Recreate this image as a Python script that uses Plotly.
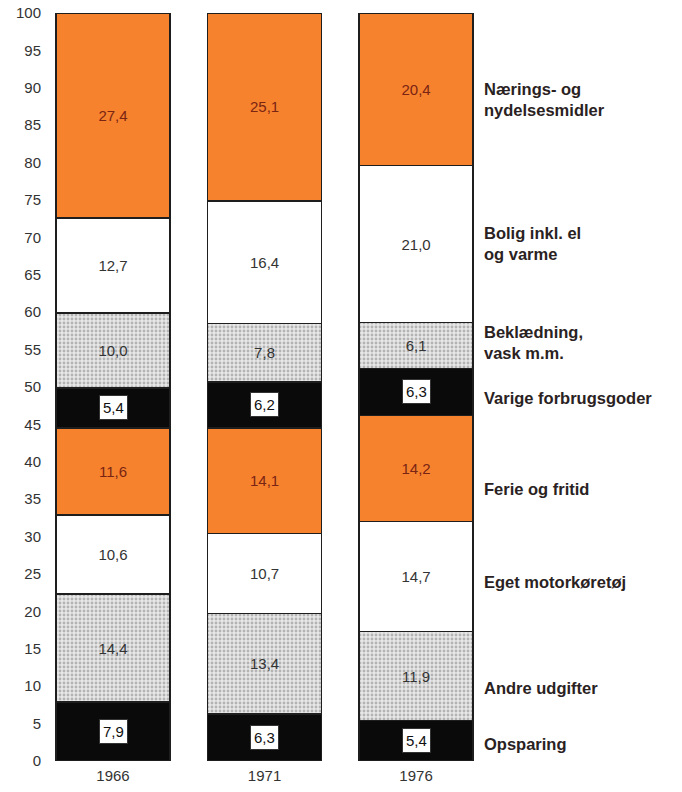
import plotly.graph_objects as go

years = ["1966", "1971", "1976"]

# Spending groups, bottom to top of each stacked column
categories = [
    "Opsparing",
    "Andre udgifter",
    "Eget motorkøretøj",
    "Ferie og fritid",
    "Varige forbrugsgoder",
    "Beklædning, vask m.m.",
    "Bolig inkl. el og varme",
    "Nærings- og nydelsesmidler",
]
right_labels = [
    "Opsparing",
    "Andre udgifter",
    "Eget motorkøretøj",
    "Ferie og fritid",
    "Varige forbrugsgoder",
    "Beklædning,<br>vask m.m.",
    "Bolig inkl. el<br>og varme",
    "Nærings- og<br>nydelsesmidler",
]

opsparing = [7.9, 6.3, 5.4]
andre_udgifter = [14.4, 13.4, 11.9]
eget_motorkoeretoej = [10.6, 10.7, 14.7]
ferie_fritid = [11.6, 14.1, 14.2]
varige_forbrugsgoder = [5.4, 6.2, 6.3]
beklaedning = [10.0, 7.8, 6.1]
bolig = [12.7, 16.4, 21.0]
naerings = [27.4, 25.1, 20.4]

series = [opsparing, andre_udgifter, eget_motorkoeretoej, ferie_fritid,
          varige_forbrugsgoder, beklaedning, bolig, naerings]

# Fill style per group
ORANGE = "#F6822E"
styles = ["black", "dots", "white", "orange", "black", "dots", "white", "orange"]

# Vertical placement of the side labels (percent axis)
label_y = [2.3, 9.8, 23.9, 36.4, 48.5, 55.9, 69.2, 88.4]

xpos = [0, 1, 2]
FONT = "Liberation Sans, Arial, sans-serif"


def fmt(v):
    return f"{v:.1f}".replace(".", ",")


fig = go.Figure()
annotations = []
cum = [0.0, 0.0, 0.0]
for name, vals, style in zip(categories, series, styles):
    marker = dict(line=dict(color="#1e1e1e", width=1.5))
    textfont = dict(family=FONT, size=15, color="#333")
    text = [fmt(v) for v in vals]
    if style == "orange":
        marker["color"] = ORANGE
        textfont["color"] = "#7a2413"
    elif style == "white":
        marker["color"] = "#ffffff"
    elif style == "dots":
        marker["color"] = "#e2e2e2"
        marker["pattern"] = dict(shape=".", fgcolor="#7d7d7d", bgcolor="#e8e8e8",
                                 size=4, solidity=0.4, fillmode="overlay")
    else:
        marker["color"] = "#0a0a0a"
        text = None
        for i, v in enumerate(vals):
            annotations.append(dict(
                x=xpos[i], y=cum[i] + v / 2, xref="x", yref="y",
                text=fmt(v), showarrow=False,
                font=dict(family=FONT, size=15, color="#111"),
                bgcolor="#ffffff", bordercolor="#333", borderwidth=1, borderpad=3,
            ))
    fig.add_trace(go.Bar(
        x=xpos, y=vals, name=name, marker=marker,
        text=text, textposition="inside" if text else "none",
        insidetextanchor="middle", textangle=0, textfont=textfont,
        width=0.75, showlegend=False, hoverinfo="name+y",
    ))
    cum = [c + v for c, v in zip(cum, vals)]

for lab, ly in zip(right_labels, label_y):
    annotations.append(dict(
        x=1.0165, y=ly, xref="paper", yref="y", xanchor="left", yanchor="middle",
        text=f"<b>{lab}</b>", showarrow=False, align="left",
        font=dict(family=FONT, size=16.5, color="#2a2222"),
    ))

fig.update_layout(
    barmode="stack",
    width=682, height=792,
    margin=dict(l=50, r=207, t=13, b=31),
    plot_bgcolor="#ffffff", paper_bgcolor="#ffffff",
    annotations=annotations,
    uniformtext=dict(mode="show", minsize=10),
)
fig.update_xaxes(
    range=[-0.416, 2.389], tickvals=xpos, ticktext=years,
    showgrid=False, zeroline=False, showline=False, ticks="",
    automargin=False, ticklabelstandoff=4,
    tickfont=dict(family=FONT, size=15, color="#333"),
)
fig.update_yaxes(
    range=[0, 100], tickvals=list(range(0, 101, 5)),
    showgrid=False, zeroline=False, showline=False, ticks="",
    automargin=False, ticklabelstandoff=8,
    tickfont=dict(family=FONT, size=15, color="#333"),
)

fig.write_html("out.html")
